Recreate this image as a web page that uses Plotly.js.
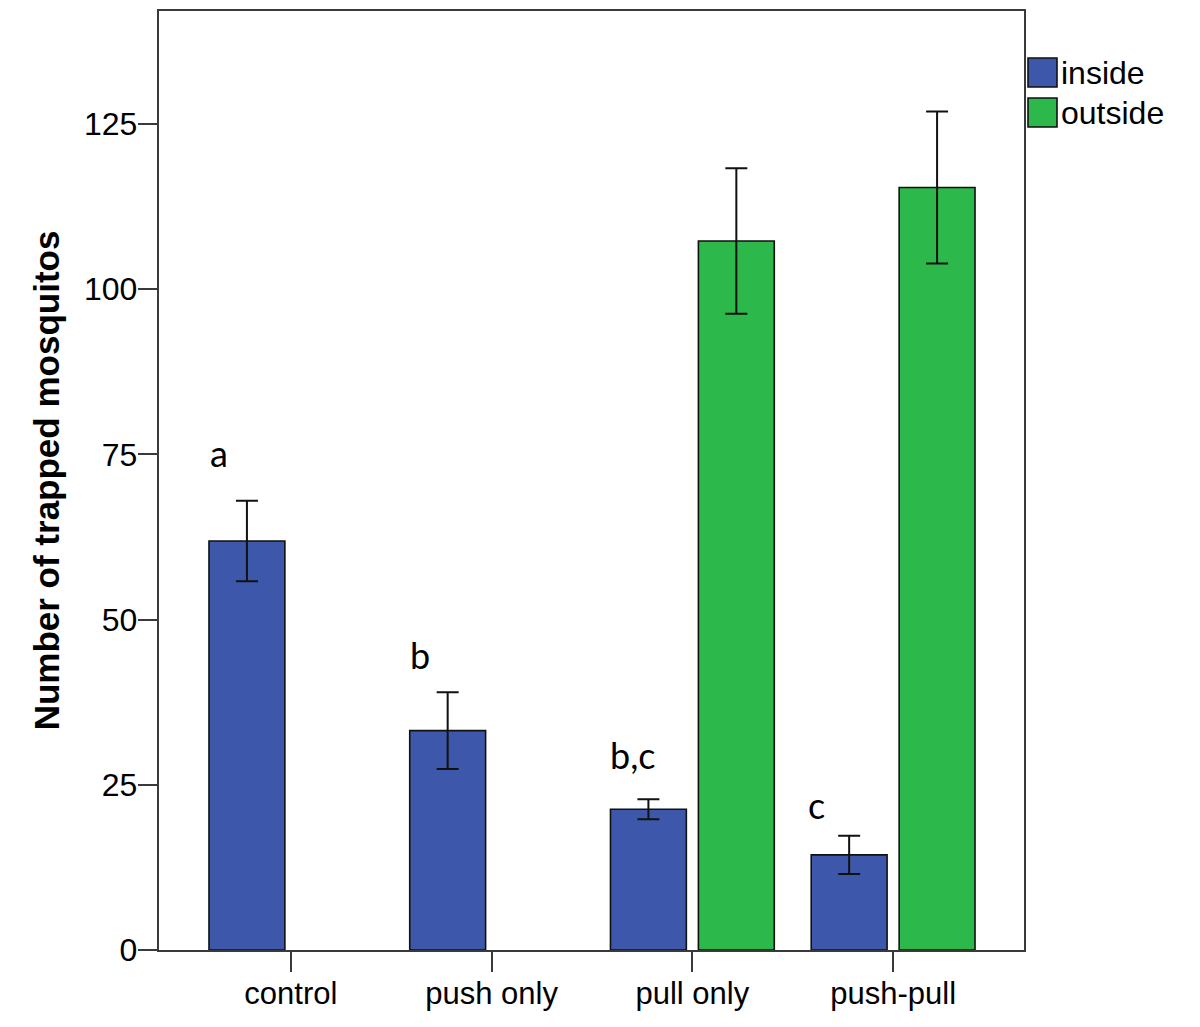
<!DOCTYPE html>
<html>
<head>
<meta charset="utf-8">
<script src="https://cdn.plot.ly/plotly-3.0.1.min.js"></script>
<style>html,body{margin:0;padding:0;background:#fff;}#chart{width:1200px;height:1027px;}</style>
</head>
<body>
<div id="chart"></div>
<script>
// ---- data ----
const categories = ["control", "push only", "pull only", "push-pull"];
const seriesNames = ["inside", "outside"];
const insideMean = [61.9, 33.2, 21.3, 14.4];
const insideErr = [6.1, 5.8, 1.5, 2.9];
const outsideMean = [null, null, 107.3, 115.4];
const outsideErr = [null, null, 11.0, 11.5];
const yTicks = [0, 25, 50, 75, 100, 125];
const sigLetters = ["a", "b", "b,c", "c"];
const sigLetterX = [-0.358, 0.642, 1.706, 2.617];
const sigLetterY = [75.2, 44.6, 29.5, 21.9];
const yTitle = "Number of trapped mosquitos";

// ---- styling ----
const colors = ["#3D58AA", "#2DB84B"];
const W = 1200, H = 1027;
const plotL = 159, plotR = 1024, plotT = 11, plotB = 950;
const axisColor = "#3a3a3a";
const baseFont = "Arial, 'Liberation Sans', sans-serif";

const xIdx = categories.map((_, i) => i);

function barTrace(name, vals, errs, color) {
  return {
    type: "bar", name: name, x: xIdx, y: vals,
    marker: { color: color, line: { color: "#111", width: 1.6 } },
    error_y: { type: "data", array: errs, visible: true, color: "#111", thickness: 2, width: 11 },
    showlegend: false, hoverinfo: "skip"
  };
}
const traces = [
  barTrace(seriesNames[0], insideMean, insideErr, colors[0]),
  barTrace(seriesNames[1], outsideMean, outsideErr, colors[1])
];

const pw = plotR - plotL, ph = plotB - plotT;
const px2paperX = p => (p - plotL) / pw;
const px2paperY = p => (plotB - p) / ph;

// legend (custom, to reproduce large swatches)
const shapes = [];
const annotations = [];
seriesNames.forEach((nm, i) => {
  const top = 58 + i * 40;
  shapes.push({
    type: "rect", xref: "paper", yref: "paper",
    x0: px2paperX(1028), x1: px2paperX(1057),
    y0: px2paperY(top + 29), y1: px2paperY(top),
    fillcolor: colors[i], line: { color: "#111", width: 1.6 }
  });
  annotations.push({
    xref: "paper", yref: "paper", x: px2paperX(1059), y: px2paperY(top + 15),
    xanchor: "left", yanchor: "middle", text: nm, showarrow: false,
    font: { family: baseFont, size: 32, color: "#000" }
  });
});
sigLetters.forEach((t, i) => {
  annotations.push({
    xref: "x", yref: "y", x: sigLetterX[i], y: sigLetterY[i],
    xanchor: "center", yanchor: "middle", text: t, showarrow: false,
    font: { family: "Lato, 'Open Sans', sans-serif", size: 36, color: "#000" }
  });
});

const layout = {
  width: W, height: H,
  margin: { l: plotL, r: W - plotR, t: plotT, b: H - plotB, pad: 0 },
  paper_bgcolor: "#fff", plot_bgcolor: "#fff",
  barmode: "group", bargap: 0.124, bargroupgap: 0.137,
  showlegend: false,
  font: { family: baseFont, color: "#000" },
  xaxis: {
    range: [-0.657, 3.652], tickmode: "array", tickvals: xIdx, ticktext: categories,
    ticks: "outside", ticklen: 20, tickwidth: 2, tickcolor: axisColor,
    ticklabelstandoff: -5,
    showline: true, linecolor: axisColor, linewidth: 2.2, mirror: true,
    showgrid: false, zeroline: false, fixedrange: true,
    tickfont: { family: baseFont, size: 31, color: "#000" }
  },
  yaxis: {
    range: [0, 142.1], tickmode: "array", tickvals: yTicks, ticktext: yTicks.map(String),
    ticks: "outside", ticklen: 19, tickwidth: 2, tickcolor: axisColor,
    ticklabelstandoff: -6,
    showline: true, linecolor: axisColor, linewidth: 2.2, mirror: true,
    showgrid: false, zeroline: false, fixedrange: true,
    tickfont: { family: baseFont, size: 32, color: "#000" },
    title: { text: yTitle, standoff: 14, font: { family: baseFont, size: 35, color: "#000", weight: "bold" } }
  },
  shapes: shapes,
  annotations: annotations
};

Plotly.newPlot("chart", traces, layout, { displayModeBar: false, staticPlot: true });
</script>
</body>
</html>
